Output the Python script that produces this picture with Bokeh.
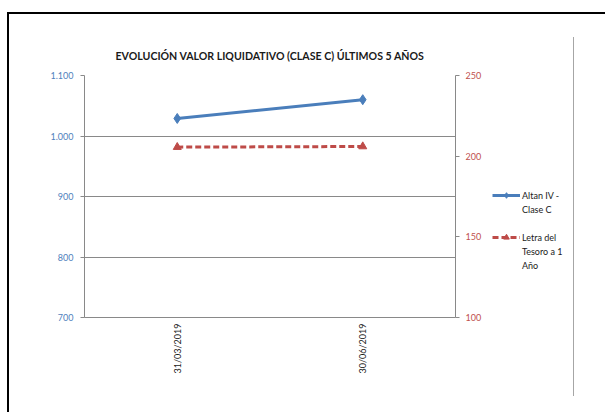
from bokeh.plotting import figure
from bokeh.layouts import row
from bokeh.models import (FactorRange, Range1d, LinearAxis, CategoricalAxis, FixedTicker,
                          Legend, LegendItem, InlineStyleSheet)
from bokeh.embed import file_html
from bokeh.resources import INLINE

# ---- data ----
dates = ["31/03/2019", "30/06/2019"]
altan = [1029, 1060]
letra = [205.6, 206.0]
left_ticks = [700, 800, 900, 1000, 1100]
left_labels = ["700", "800", "900", "1.000", "1.100"]
right_ticks = [100, 150, 200, 250]
right_labels = ["100", "150", "200", "250"]
title_text = "EVOLUCIÓN VALOR LIQUIDATIVO (CLASE C) ÚLTIMOS 5 AÑOS"
name_altan = ["Altan IV -", "Clase C"]
name_letra = ["Letra del", "Tesoro a 1", "Año"]

BLUE = "#4A7EBB"
RED = "#BE4B48"
GRAY = "#898989"
FONT = "Lato"

W1, W2, H = 490, 115, 412
p = figure(width=W1, height=H, output_backend="svg", toolbar_location=None,
           x_range=FactorRange(factors=dates, range_padding=0),
           y_range=Range1d(left_ticks[0], left_ticks[-1]),
           x_axis_location=None, y_axis_location=None,
           min_border_left=84, min_border_right=35, min_border_top=75, min_border_bottom=95)
p.outline_line_color = None
p.background_fill_color = "white"
p.border_fill_color = "white"

p.extra_y_ranges = {"right": Range1d(right_ticks[0], right_ticks[-1])}

# title
p.title.text = title_text
p.title.align = "center"
p.title.text_font = FONT
p.title.text_font_size = "10.6px"
p.title.text_font_style = "bold"
p.title.text_color = "#1a1a1a"
p.title.standoff = 27

# left axis
ax_l = LinearAxis(ticker=FixedTicker(ticks=left_ticks),
                  major_label_overrides={t: l for t, l in zip(left_ticks, left_labels)})
ax_l.axis_line_color = GRAY
ax_l.major_tick_line_color = GRAY
ax_l.major_tick_out = 4
ax_l.major_tick_in = 0
ax_l.minor_tick_line_color = None
ax_l.major_label_text_color = "#4F81BD"
ax_l.major_label_text_font = FONT
ax_l.major_label_text_font_size = "9px"
ax_l.major_label_standoff = 7
p.add_layout(ax_l, "left")

# right axis
ax_r = LinearAxis(y_range_name="right", ticker=FixedTicker(ticks=right_ticks),
                  major_label_overrides={t: l for t, l in zip(right_ticks, right_labels)})
ax_r.axis_line_color = GRAY
ax_r.major_tick_line_color = GRAY
ax_r.major_tick_out = 4
ax_r.major_tick_in = 0
ax_r.minor_tick_line_color = None
ax_r.major_label_text_color = "#C0504D"
ax_r.major_label_text_font = FONT
ax_r.major_label_text_font_size = "9px"
ax_r.major_label_standoff = 6
p.add_layout(ax_r, "right")

# bottom axis
ax_b = CategoricalAxis()
ax_b.axis_line_color = GRAY
ax_b.major_tick_line_color = None
ax_b.major_tick_out = 0
ax_b.major_tick_in = 0
ax_b.minor_tick_line_color = None
ax_b.major_label_orientation = 3.14159265 / 2
ax_b.major_label_text_font = FONT
ax_b.major_label_text_font_size = "9px"
ax_b.major_label_text_color = "#1a1a1a"
ax_b.major_label_standoff = 6
p.add_layout(ax_b, "below")

# grid
p.ygrid.ticker = FixedTicker(ticks=left_ticks)
p.ygrid.grid_line_color = GRAY
p.ygrid.grid_line_width = 1
p.xgrid.grid_line_color = None

# series
p.line(dates, altan, line_color=BLUE, line_width=3)
p.scatter(dates, altan, marker="diamond", size=10, fill_color=BLUE, line_color=BLUE)
p.line(dates, letra, line_color=RED, line_width=3, line_dash="6 3", y_range_name="right")
p.scatter(dates, letra, marker="triangle", size=8, fill_color=RED, line_color=RED,
          y_range_name="right")

# ---- legend panel (separate figure to the right; its series lie outside its view) ----
q = figure(width=W2, height=H, output_backend="svg", toolbar_location=None, title=None,
           x_axis_location=None, y_axis_location=None, min_border=0,
           x_range=FactorRange(factors=dates, range_padding=0), y_range=Range1d(0, 1))
q.outline_line_color = None
q.xgrid.grid_line_color = None
q.ygrid.grid_line_color = None
q.background_fill_color = "white"
q.border_fill_color = "white"

k1 = q.line(dates, altan, line_color=BLUE, line_width=3)
k1m = q.scatter(dates, altan, marker="diamond", size=8, fill_color=BLUE, line_color=BLUE)
k2 = q.line(dates, letra, line_color=RED, line_width=3, line_dash="6 3")
k2m = q.scatter(dates, letra, marker="triangle", size=7, fill_color=RED, line_color=RED)
blank = q.line(dates, altan, line_alpha=0)

items = [LegendItem(label=name_altan[0], renderers=[k1, k1m])]
items += [LegendItem(label=t, renderers=[blank]) for t in name_altan[1:]]
items += [LegendItem(label=" ", renderers=[blank])]
items += [LegendItem(label=name_letra[0], renderers=[k2, k2m])]
items += [LegendItem(label=t, renderers=[blank]) for t in name_letra[1:]]

lg = Legend(items=items, location=(2, 45))
lg.padding = 0
lg.margin = 0
lg.spacing = 0
lg.border_line_color = None
lg.background_fill_alpha = 0
lg.glyph_width = 28
lg.glyph_height = 14
lg.label_height = 14
lg.label_standoff = 2
lg.label_text_font = FONT
lg.label_text_font_size = "9px"
lg.label_text_color = "#1a1a1a"
lg.label_text_baseline = "middle"
q.add_layout(lg, "center")

layout = row(p, q)
layout.spacing = 0
layout.stylesheets = [InlineStyleSheet(css="""
:host { position: relative; overflow: visible; }
:host::before { content: ""; position: absolute; left: 7px; top: 12px; right: 0px; bottom: 0px;
  border-left: 2px solid black; border-top: 2px solid black; pointer-events: none; z-index: 100; }
:host::after { content: ""; position: absolute; left: 573px; top: 37px; width: 0px; height: 359px;
  border-left: 1.5px solid #A6A6A6; pointer-events: none; z-index: 100; }
""")]

open("out.html", "w").write(file_html(layout, INLINE))
